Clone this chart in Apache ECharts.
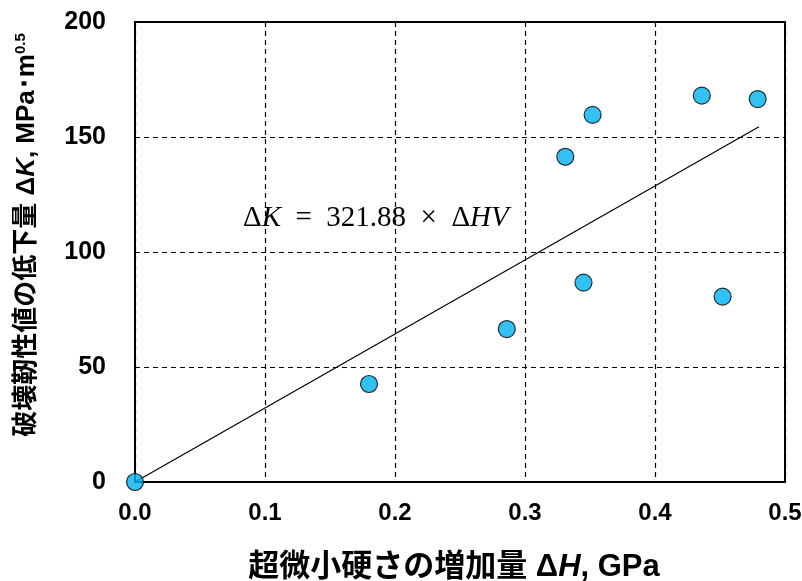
<!DOCTYPE html>
<html>
<head>
<meta charset="utf-8">
<script src="https://cdn.jsdelivr.net/npm/echarts@6/dist/echarts.min.js"></script>
<style>
html,body{margin:0;padding:0;background:#fff;}
#chart{width:802px;height:581px;}
</style>
</head>
<body>
<div id="chart"></div>
<script>
// Data
var hardnessIncrease = [0.0, 0.180, 0.286, 0.331, 0.345, 0.352, 0.436, 0.452, 0.479]; // ΔH, GPa
var toughnessDrop   = [0.0, 42.6, 66.5, 141.4, 86.7, 159.6, 168.0, 80.6, 166.5];    // ΔK, MPa·m^0.5
var trendX = [0.0, 0.48];
var trendY = [0.0, 154.5];
var xTicks = ['0.0', '0.1', '0.2', '0.3', '0.4', '0.5'];
var yTicks = ['0', '50', '100', '150', '200'];

var scatterData = hardnessIncrease.map(function (x, i) { return [x, toughnessDrop[i]]; });
var trendData = trendX.map(function (x, i) { return [x, trendY[i]]; });

var chart = echarts.init(document.getElementById('chart'), null, {renderer: 'canvas'});
var labelFont = '"Liberation Sans", Arial, sans-serif';
var cjkFont = '"Liberation Sans", "Noto Sans CJK JP", sans-serif';
var serif = '"Liberation Serif", "DejaVu Serif", serif';

chart.setOption({
  animation: false,
  backgroundColor: '#ffffff',
  grid: {
    left: 135, right: 17, top: 22, bottom: 99,
    containLabel: false, outerBoundsMode: 'none',
    show: true, borderColor: '#000', borderWidth: 2, backgroundColor: 'transparent'
  },
  xAxis: {
    type: 'value', min: 0, max: 0.5, interval: 0.1,
    axisLine: {show: true, onZero: false, lineStyle: {color: '#000', width: 2}},
    axisTick: {show: false},
    splitLine: {show: true, lineStyle: {color: '#000', type: [5, 4], width: 1.2}},
    axisLabel: {
      margin: 19, color: '#000', fontSize: 24, fontWeight: 'bold', fontFamily: labelFont,
      formatter: function (v) { return xTicks[Math.round(v * 10)]; }
    },
    name: '超微小硬さの増加量 {n|Δ}{i|H}{n|, GPa}',
    nameLocation: 'middle', nameGap: 70,
    nameTextStyle: {
      color: '#000', fontSize: 31, fontWeight: 'bold', fontFamily: cjkFont,
      padding: [0, 12, 0, 0],
      rich: {
        i: {fontSize: 31, fontWeight: 'bold', fontStyle: 'italic', fontFamily: labelFont, color: '#000'},
        n: {fontSize: 31, fontWeight: 'bold', fontFamily: labelFont, color: '#000'}
      }
    }
  },
  yAxis: {
    type: 'value', min: 0, max: 200, interval: 50,
    axisLine: {show: true, onZero: false, lineStyle: {color: '#000', width: 2}},
    axisTick: {show: false},
    splitLine: {show: true, lineStyle: {color: '#000', type: [5, 4], width: 1.2}},
    axisLabel: {
      margin: 29, color: '#000', fontSize: 25, fontWeight: 'bold', fontFamily: labelFont,
      formatter: function (v) { return yTicks[Math.round(v / 50)]; }
    },
    name: '破壊靭性値の低下量 {n|Δ}{i|K}{n|, MPa･m}{s|0.5}',
    nameLocation: 'middle', nameRotate: 90, nameGap: 95,
    nameTextStyle: {
      color: '#000', fontSize: 26, fontWeight: 'bold', fontFamily: cjkFont,
      padding: [0, 0, 0, 34],
      rich: {
        i: {fontSize: 26, fontWeight: 'bold', fontStyle: 'italic', fontFamily: labelFont, color: '#000'},
        n: {fontSize: 26, fontWeight: 'bold', fontFamily: labelFont, color: '#000'},
        s: {fontSize: 15, fontWeight: 'bold', fontFamily: labelFont, color: '#000', verticalAlign: 'top', padding: [0, 0, 12, 0]}
      }
    }
  },
  graphic: [{
    type: 'text', left: 243, top: 204, z: 10,
    style: {
      text: '{n|Δ}{k|K}{n|  =  321.88  ×  Δ}{k|HV}',
      rich: {
        k: {fontFamily: serif, fontStyle: 'italic', fontSize: 29, fill: '#000'},
        n: {fontFamily: serif, fontSize: 29, fill: '#000'}
      }
    }
  }],
  series: [
    {
      type: 'line', data: trendData, showSymbol: false, symbol: 'none', z: 2,
      lineStyle: {color: '#000', width: 1.2}
    },
    {
      type: 'scatter', data: scatterData, symbol: 'circle', symbolSize: 17, z: 5,
      itemStyle: {color: '#00B0F0', borderColor: '#000', borderWidth: 1.2}
    }
  ]
});
</script>
</body>
</html>
